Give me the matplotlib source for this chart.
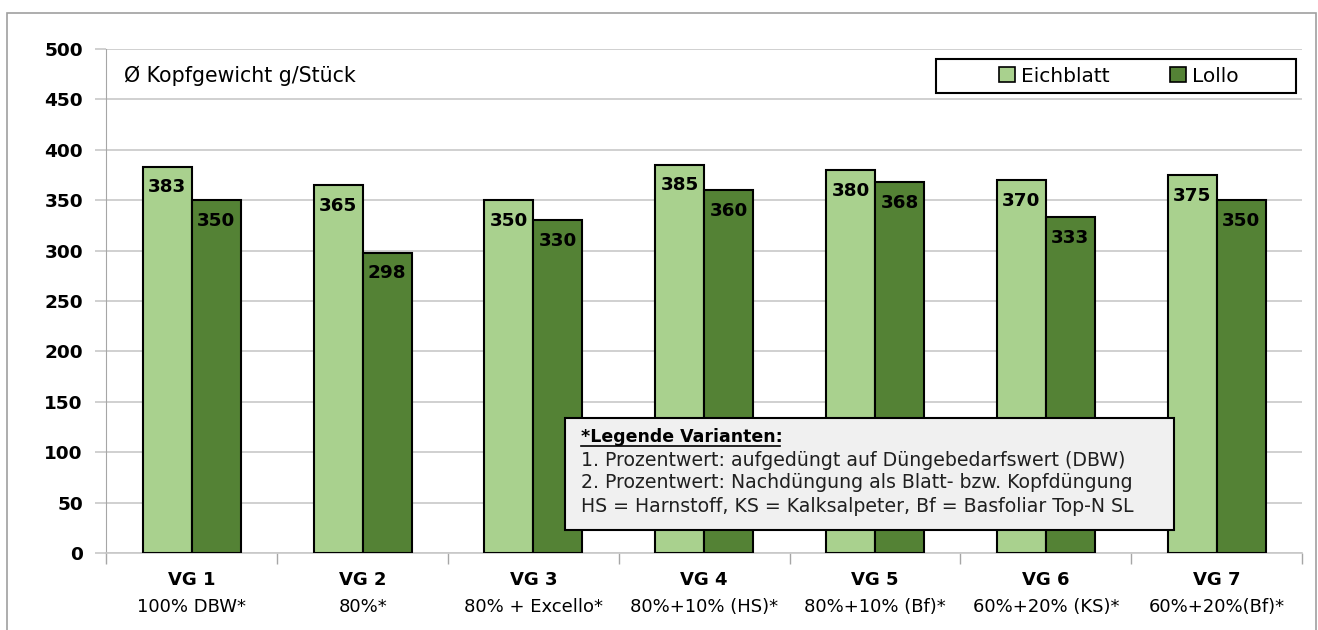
import matplotlib
matplotlib.use("Agg")
import matplotlib.pyplot as plt
from matplotlib.patches import Rectangle, Patch
import numpy as np

groups = ["VG 1", "VG 2", "VG 3", "VG 4", "VG 5", "VG 6", "VG 7"]
subtitles = ["100% DBW*", "80%*", "80% + Excello*", "80%+10% (HS)*",
             "80%+10% (Bf)*", "60%+20% (KS)*", "60%+20%(Bf)*"]
series_names = ["Eichblatt", "Lollo"]
eichblatt = [383, 365, 350, 385, 380, 370, 375]
lollo = [350, 298, 330, 360, 368, 333, 350]
yticks = [0, 50, 100, 150, 200, 250, 300, 350, 400, 450, 500]

c_light = "#a9d18e"
c_dark = "#548235"

plt.rcParams['font.family'] = ['DejaVu Sans']

W, H = 1318, 630
fig = plt.figure(figsize=(W/100, H/100), dpi=100)
ax_l, ax_r, ax_t, ax_b = 106.5, 1302, 49, 553
ax = fig.add_axes([ax_l/W, 1 - ax_b/H, (ax_r-ax_l)/W, (ax_b-ax_t)/H])

def axc(px, py):
    return (px - ax_l)/(ax_r - ax_l), (ax_b - py)/(ax_b - ax_t)

x = np.arange(len(groups))
w = 0.287
b1 = ax.bar(x - w/2, eichblatt, w, color=c_light, edgecolor="black", linewidth=1.5, zorder=3)
b2 = ax.bar(x + w/2, lollo, w, color=c_dark, edgecolor="black", linewidth=1.5, zorder=3)

for bars, vals in ((b1, eichblatt), (b2, lollo)):
    for r, v in zip(bars, vals):
        ax.annotate(str(v), (r.get_x() + r.get_width()/2, v), xytext=(0, -14.8),
                    textcoords="offset points", ha="center", va="center",
                    fontsize=13.2, fontweight="bold", color="black", zorder=5)

ax.set_xlim(-0.5, len(groups) - 0.5)
ax.set_ylim(0, 500)
ax.set_yticks(yticks)
ax.set_yticklabels([str(t) for t in yticks], fontsize=13.3, fontweight="bold")
ax.yaxis.grid(True, color="#c8c8c8", linewidth=1.2, zorder=0)
ax.set_axisbelow(True)

ax.set_xticks(np.arange(len(groups) + 1) - 0.5)
ax.set_xticklabels([])
ax.tick_params(axis="x", length=8, color="#a6a6a6", width=1)
ax.tick_params(axis="y", length=8, color="#c8c8c8", width=1.2, pad=9)

for s in ["top", "right"]:
    ax.spines[s].set_visible(False)
ax.spines["left"].set_color("#a6a6a6")
ax.spines["bottom"].set_color("#c8c8c8")
ax.spines["bottom"].set_linewidth(1.2)

for i, (g, s) in enumerate(zip(groups, subtitles)):
    ax.text(i, axc(0, 580)[1], g, transform=ax.get_xaxis_transform(), ha="center", va="center",
            fontsize=13, fontweight="bold")
    ax.text(i, axc(0, 607)[1], s, transform=ax.get_xaxis_transform(), ha="center", va="center",
            fontsize=13)

tx, ty = axc(124, 76)
ax.text(tx, ty, "Ø Kopfgewicht g/Stück", transform=ax.transAxes,
        ha="left", va="center", fontsize=14.8)

# legend with manual frame
lx0, ly1 = axc(936, 93)
lx1, ly0 = axc(1296, 59)
ax.add_patch(Rectangle((lx0, ly1), lx1 - lx0, ly0 - ly1, transform=ax.transAxes,
                       facecolor="white", edgecolor="black", linewidth=1.5, zorder=6))
handles = [Patch(facecolor=c_light, edgecolor="black", linewidth=1.2),
           Patch(facecolor=c_dark, edgecolor="black", linewidth=1.2)]
lc = axc(1119, 76)
leg = ax.legend(handles, series_names, loc="center", bbox_to_anchor=lc,
                ncol=2, fontsize=14.5, frameon=False,
                handlelength=0.8, handleheight=0.7, handletextpad=0.3,
                columnspacing=3.0, borderpad=0.2)
leg.set_zorder(7)

# annotation box
bx0, by0 = 565/W, 1 - 530/H
bw, bh = (1174-565)/W, (530-418)/H
fig.patches.append(Rectangle((bx0, by0), bw, bh, transform=fig.transFigure,
                             facecolor="#f0f0f0", edgecolor="black", linewidth=1.5, zorder=10))
tx = 581/W
lines_y = [437, 460, 483, 506]
fs = 13.6
fig.text(tx, 1 - lines_y[0]/H, "*Legende Varianten:", fontsize=12.5, fontweight="bold",
         va="center", ha="left", zorder=11)
fig.text(tx, 1 - lines_y[1]/H, "1. Prozentwert: aufgedüngt auf Düngebedarfswert (DBW)",
         fontsize=fs, va="center", ha="left", zorder=11, color="#202020")
fig.text(tx, 1 - lines_y[2]/H, "2. Prozentwert: Nachdüngung als Blatt- bzw. Kopfdüngung",
         fontsize=fs, va="center", ha="left", zorder=11, color="#202020")
fig.text(tx, 1 - lines_y[3]/H, "HS = Harnstoff, KS = Kalksalpeter, Bf = Basfoliar Top-N SL",
         fontsize=fs, va="center", ha="left", zorder=11, color="#202020")
fig.add_artist(plt.Line2D([tx, 780/W], [1 - 446/H, 1 - 446/H], color="black",
                          linewidth=1.2, transform=fig.transFigure, zorder=11))

# outer border
fig.patches.append(Rectangle((7/W, -0.05), (1316-7)/W, 1.05 - 13/H,
                             transform=fig.transFigure, fill=False, edgecolor="#a0a0a0",
                             linewidth=1.2, clip_on=False))

fig.savefig("out.png", dpi=100)
